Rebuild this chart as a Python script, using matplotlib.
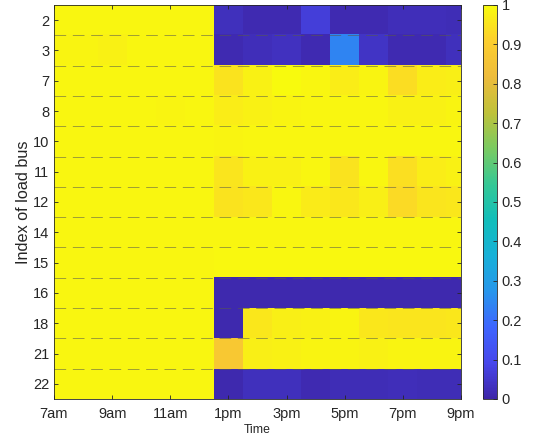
"""Heatmap of load-bus service level over the day, MATLAB parula style."""

from __future__ import annotations

import matplotlib

matplotlib.use("Agg")
import matplotlib.pyplot as plt
import numpy as np
from matplotlib.colors import LinearSegmentedColormap

plt.rcParams["font.family"] = ["Liberation Sans", "DejaVu Sans"]

BUSES = ["2", "3", "7", "8", "10", "11", "12", "14", "15", "16", "18", "21", "22"]
HOURS = list(range(7, 22))
TIME_TICKS = [7, 9, 11, 13, 15, 17, 19, 21]
TIME_LABELS = ["7am", "9am", "11am", "1pm", "3pm", "5pm", "7pm", "9pm"]

# morning hours 7..12, afternoon hours 13..21
MORNING = [
    [0.99, 0.99, 0.99, 0.99, 0.99, 0.99],
    [0.985, 0.985, 0.98, 0.99, 0.99, 0.99],
    [0.99, 0.99, 0.99, 0.99, 0.99, 0.99],
    [0.99, 0.99, 0.99, 0.99, 0.985, 0.99],
    [0.99, 0.99, 0.99, 0.99, 0.99, 0.99],
    [0.99, 0.99, 0.99, 0.99, 0.99, 0.99],
    [0.99, 0.99, 0.99, 0.99, 0.99, 0.99],
    [0.99, 0.99, 0.99, 0.99, 0.99, 0.99],
    [0.99, 0.99, 0.99, 0.99, 0.99, 0.99],
    [0.99, 0.99, 0.99, 0.99, 0.99, 0.99],
    [0.99, 0.99, 0.99, 0.99, 0.99, 0.99],
    [0.99, 0.99, 0.99, 0.99, 0.99, 0.99],
    [0.99, 0.99, 0.99, 0.99, 0.99, 0.99],
]
AFTERNOON = [
    [0.03, 0.015, 0.015, 0.07, 0.015, 0.015, 0.025, 0.025, 0.02],
    [0.015, 0.025, 0.035, 0.012, 0.24, 0.04, 0.015, 0.015, 0.03],
    [0.95, 0.98, 1.0, 0.99, 0.97, 0.985, 0.94, 0.97, 0.975],
    [0.97, 0.98, 0.985, 0.99, 0.99, 0.99, 0.98, 0.98, 0.985],
    [0.985, 0.99, 0.99, 0.99, 0.99, 0.99, 0.99, 0.99, 0.99],
    [0.955, 0.98, 0.98, 0.99, 0.95, 0.99, 0.945, 0.97, 0.98],
    [0.95, 0.96, 0.99, 0.965, 0.96, 0.975, 0.93, 0.955, 0.96],
    [0.99, 0.99, 0.99, 0.99, 0.99, 0.99, 0.99, 0.99, 0.99],
    [0.995, 0.995, 0.995, 0.995, 0.995, 0.995, 0.995, 0.995, 0.995],
    [0.01, 0.01, 0.01, 0.01, 0.01, 0.01, 0.01, 0.01, 0.01],
    [0.01, 0.96, 0.975, 0.98, 0.985, 0.96, 0.955, 0.955, 0.96],
    [0.88, 0.975, 0.98, 0.985, 0.985, 0.98, 0.985, 0.985, 0.985],
    [0.01, 0.03, 0.03, 0.015, 0.02, 0.02, 0.025, 0.02, 0.02],
]

PARULA_ANCHORS = [
    (0.2422, 0.1504, 0.6603),
    (0.2803, 0.2782, 0.9221),
    (0.2440, 0.3976, 0.9975),
    (0.1540, 0.5902, 0.9218),
    (0.0911, 0.6920, 0.8454),
    (0.0689, 0.7448, 0.7298),
    (0.2080, 0.7842, 0.5846),
    (0.4796, 0.7928, 0.3813),
    (0.7493, 0.7604, 0.2254),
    (0.9324, 0.7360, 0.2360),
    (0.9899, 0.8088, 0.1808),
    (0.9763, 0.9831, 0.0538),
]


def main() -> None:
    values = np.hstack([np.array(MORNING), np.array(AFTERNOON)])
    parula = LinearSegmentedColormap.from_list("parula", PARULA_ANCHORS, N=256)
    ink = (0.15, 0.15, 0.15)

    fig = plt.figure(figsize=(5.33, 4.4), dpi=100)
    ax = fig.add_axes([0.1013, 0.0932, 0.7636, 0.8955])
    im = ax.imshow(
        values,
        cmap=parula,
        vmin=0,
        vmax=1,
        aspect="auto",
        interpolation="nearest",
        extent=(HOURS[0] - 0.5, HOURS[-1] + 0.5, len(BUSES) + 0.5, 0.5),
    )
    for k in range(1, len(BUSES)):
        ax.axhline(k + 0.5, color=(0.35, 0.35, 0.3), linestyle=(0, (14, 8)), linewidth=0.6, alpha=0.65)
    ax.set_xlim(HOURS[0], HOURS[-1])
    ax.set_ylim(len(BUSES) + 0.5, 0.5)
    ax.set_xticks(TIME_TICKS)
    ax.set_xticklabels(TIME_LABELS)
    ax.set_yticks(range(1, len(BUSES) + 1))
    ax.set_yticklabels(BUSES)
    ax.tick_params(direction="in", length=3, width=0.6, colors=ink, labelsize=10.5,
                   top=True, right=True, labelcolor=ink)
    ax.tick_params(axis="x", pad=6)
    for spine in ax.spines.values():
        spine.set_color(ink)
        spine.set_linewidth(0.6)
    ax.set_xlabel("Time", fontsize=8.8, color=ink, labelpad=2)
    ax.set_ylabel("Index of load bus", fontsize=11.7, color=ink, labelpad=1.5)

    cax = fig.add_axes([0.906, 0.0932, 0.0263, 0.8955])
    cbar = fig.colorbar(im, cax=cax)
    cbar.set_ticks(np.arange(0, 1.01, 0.1))
    cbar.set_ticklabels(["0", "0.1", "0.2", "0.3", "0.4", "0.5", "0.6", "0.7", "0.8", "0.9", "1"])
    cbar.ax.tick_params(direction="in", length=3, width=0.6, colors=ink, labelsize=10.5)
    cbar.outline.set_edgecolor(ink)
    cbar.outline.set_linewidth(0.6)

    fig.savefig("out.png", dpi=100)
    plt.close(fig)


if __name__ == "__main__":
    main()
